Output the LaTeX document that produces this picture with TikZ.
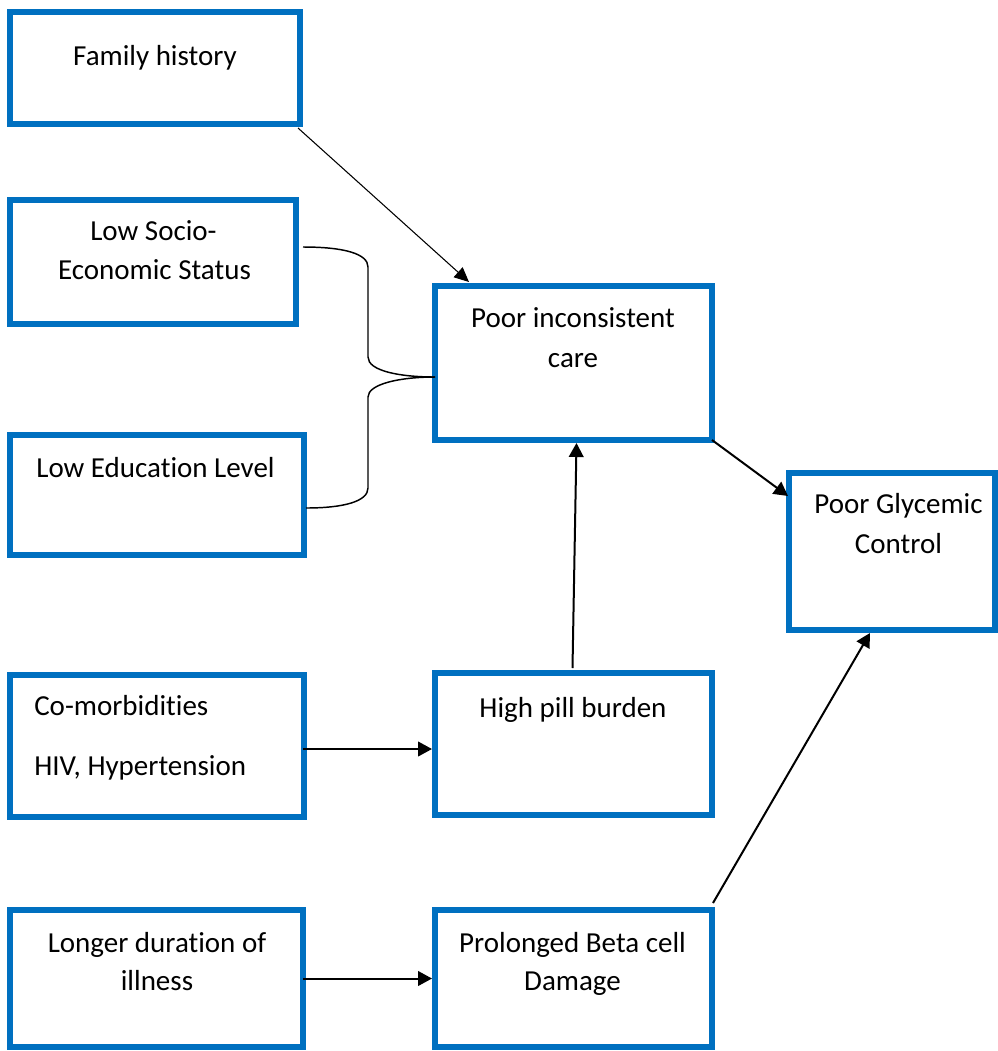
\documentclass[tikz,border=0pt]{standalone}
\usepackage{fontspec}
\setmainfont{Carlito}[Ligatures={NoCommon}]
\usetikzlibrary{arrows.meta,calc}
\definecolor{boxblue}{RGB}{0,112,192}
\begin{document}
\begin{tikzpicture}[x=0.75pt,y=-0.75pt,
  box/.style={draw=boxblue, line width=4.5pt, fill=white, rectangle, inner sep=0pt},
  txt/.style={inner sep=0pt, anchor=base, font=\fontsize{21.75pt}{29pt}\selectfont, text=black},
  txtl/.style={txt, anchor=base west},
  arr/.style={line width=1.5pt, -{Triangle[length=10.5pt,width=11pt]}},
  thinarr/.style={line width=0.8pt, -{Triangle[length=11pt,width=10pt]}},
  brace/.style={line width=1.1pt}]
\useasboundingbox (0,0) rectangle (998,1051);
% boxes
\node[box, minimum width=217.5pt, minimum height=84pt]   (fam)    at (155,68) {};
\node[box, minimum width=214.5pt, minimum height=93pt]   (lse)    at (153,262) {};
\node[box, minimum width=220.5pt, minimum height=90pt]   (led)    at (157,495) {};
\node[box, minimum width=220.5pt, minimum height=106.5pt] (com)   at (157,746) {};
\node[box, minimum width=219.75pt, minimum height=102.75pt] (lng) at (156.5,978.5) {};
\node[box, minimum width=207.75pt, minimum height=115.5pt] (care) at (573.5,363) {};
\node[box, minimum width=207.75pt, minimum height=106.5pt] (pill) at (573.5,744) {};
\node[box, minimum width=207.75pt, minimum height=102.75pt] (prol) at (573.5,978.5) {};
\node[box, minimum width=154.5pt, minimum height=117.75pt] (glyc) at (892,551.5) {};
% texts
\node[txt] (famt) at (155,65) {Family history};
\node[txt] (lset1) at (153.5,240) {Low Socio-};
\node[txt] (lset2) at (154.5,279) {Economic Status};
\node[txt] (ledt) at (155.5,477) {Low Education Level};
\node[txt] (caret1) at (573,327) {Poor inconsistent};
\node[txt] (caret2) at (573,367) {care};
\node[txt] (glyct1) at (898.5,513) {Poor Glycemic};
\node[txt] (glyct2) at (898.5,553) {Control};
\node[txtl] (comt1) at (34,715) {Co-morbidities};
\node[txtl] (comt2) at (34,775) {HIV, Hypertension};
\node[txt] (pillt) at (573,717) {High pill burden};
\node[txt] (lngt1) at (157,952) {Longer duration of};
\node[txt] (lngt2) at (157,990) {illness};
\node[txt] (prolt1) at (572.5,952) {Prolonged Beta cell};
\node[txt] (prolt2) at (572.5,990) {Damage};
% connectors
\draw[thinarr] ($(fam.south east)+(-5,1)$) -- ($(care.north west)+(37,-1)$);
\draw[arr] ($(pill.north)+(-1,-2)$) -- ($(care.south)+(3,0)$);
\draw[arr] ($(care.south east)+(-3,-3)$) -- ($(glyc.north west)+(2,26)$);
\draw[arr] ($(com.east)+(-4,3)$) coordinate (c1) -- (c1 -| pill.west);
\draw[arr] ($(lng.east)+(-3,0)$) -- (prol.west);
\draw[arr] ($(prol.north east)+(-2,-4)$) -- ($(glyc.south west)+(84,0)$);
% brace
\coordinate (bp) at (435,377);
\draw[brace] ($(lse.east)+(4,-15)$) .. controls (345,247) and (368,254) .. (368,267)
  -- (368,357) .. controls (368,371) and (400,377) .. (bp);
\draw[brace] (bp) .. controls (400,377) and (368,384) .. (368,397)
  -- (368,488) .. controls (368,501) and (345,508) .. ($(led.east)+(-1,13)$);
\end{tikzpicture}
\end{document}
